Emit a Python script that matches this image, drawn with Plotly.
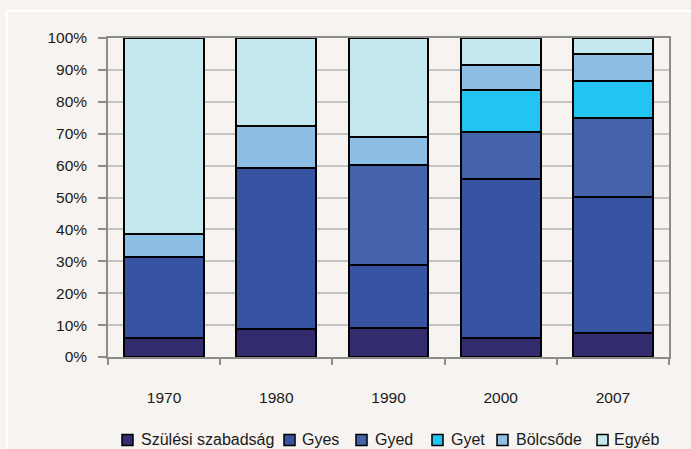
import plotly.graph_objects as go

years = ["1970", "1980", "1990", "2000", "2007"]
series_names = ["Szülési szabadság", "Gyes", "Gyed", "Gyet", "Bölcsőde", "Egyéb"]
szules = [6.0, 8.7, 9.2, 6.0, 7.6]
gyes = [25.3, 50.5, 19.5, 49.9, 42.7]
gyed = [None, None, 31.6, 14.5, 24.6]
gyet = [None, None, None, 13.4, 11.7]
bolcsode = [7.4, 13.3, 8.6, 7.8, 8.3]
egyeb = [61.3, 27.5, 31.1, 8.4, 5.1]
y_ticks = [0, 10, 20, 30, 40, 50, 60, 70, 80, 90, 100]
y_tick_labels = ["0%", "10%", "20%", "30%", "40%", "50%", "60%", "70%", "80%", "90%", "100%"]

colors = ["#322c6e", "#3953a3", "#4563ab", "#22c4f1", "#8dbfe6", "#c4e8ef"]
series_values = [szules, gyes, gyed, gyet, bolcsode, egyeb]

W, H = 691, 449
L, R, T, B = 108, 22, 38, 92
pw, ph = W - L - R, H - T - B
FONT = "Liberation Sans, Arial, sans-serif"
TXT = "#1a1a1a"
BG = "#f6f3f0"


def px(x):
    return (x - L) / pw


def py(y):
    return (H - B - y) / ph


fig = go.Figure()
for name, vals, col in zip(series_names, series_values, colors):
    fig.add_trace(go.Bar(
        x=years, y=vals, name=name,
        marker=dict(color=col, line=dict(color="#000000", width=2)),
        showlegend=False,
    ))

# custom legend (markers + text) positioned like the reference
legend_marker_x = [122, 284, 356, 432, 497, 597]
legend_text_x = [140, 301, 374, 450, 515, 613]
shapes = []
annotations = []
for name, col, mx, tx in zip(series_names, colors, legend_marker_x, legend_text_x):
    shapes.append(dict(type="rect", xref="paper", yref="paper",
                       x0=px(mx), x1=px(mx + 11), y0=py(445.5), y1=py(434.5),
                       fillcolor=col, line=dict(color="#000000", width=1.5)))
    annotations.append(dict(text=name, xref="paper", yref="paper",
                            x=px(tx - 1), y=py(439.5), xanchor="left", yanchor="middle",
                            showarrow=False, font=dict(family=FONT, size=16, color=TXT)))

# white panel border lines (left and top)
shapes.append(dict(type="line", xref="paper", yref="paper", layer="below",
                   x0=px(7), x1=px(7), y0=py(11), y1=py(449),
                   line=dict(color="#ffffff", width=2.5)))
shapes.append(dict(type="line", xref="paper", yref="paper", layer="below",
                   x0=px(7), x1=px(691), y0=py(11), y1=py(11),
                   line=dict(color="#ffffff", width=2.5)))

fig.update_layout(
    width=W, height=H,
    margin=dict(l=L, r=R, t=T, b=B),
    paper_bgcolor=BG, plot_bgcolor=BG,
    barmode="stack", bargap=0.29,
    font=dict(family=FONT, size=15, color=TXT),
    shapes=shapes, annotations=annotations,
    showlegend=False,
)
fig.update_xaxes(
    type="category", showline=True, mirror=True, linecolor="#8c8c8c", linewidth=1.5,
    ticks="outside", tickson="boundaries", ticklen=6, tickcolor="#8c8c8c", tickwidth=1.5,
    showgrid=False, ticklabelstandoff=26,
    tickfont=dict(family=FONT, size=15.5, color=TXT),
)
fig.update_yaxes(
    range=[0, 100], tickmode="array", tickvals=y_ticks, ticktext=y_tick_labels,
    showline=True, mirror=True, linecolor="#8c8c8c", linewidth=1.5,
    ticks="outside", ticklen=8, tickcolor="#8c8c8c", tickwidth=1.5,
    showgrid=True, gridcolor="#c3c3c3", gridwidth=1.5,
    ticklabelstandoff=8, zeroline=False,
    tickfont=dict(family=FONT, size=15.5, color=TXT),
)

fig.write_html(
    "out.html",
    config={"displayModeBar": False},
    post_script="document.body.style.margin='0';document.body.style.background='#f6f3f0';document.body.style.overflow='hidden';",
)
